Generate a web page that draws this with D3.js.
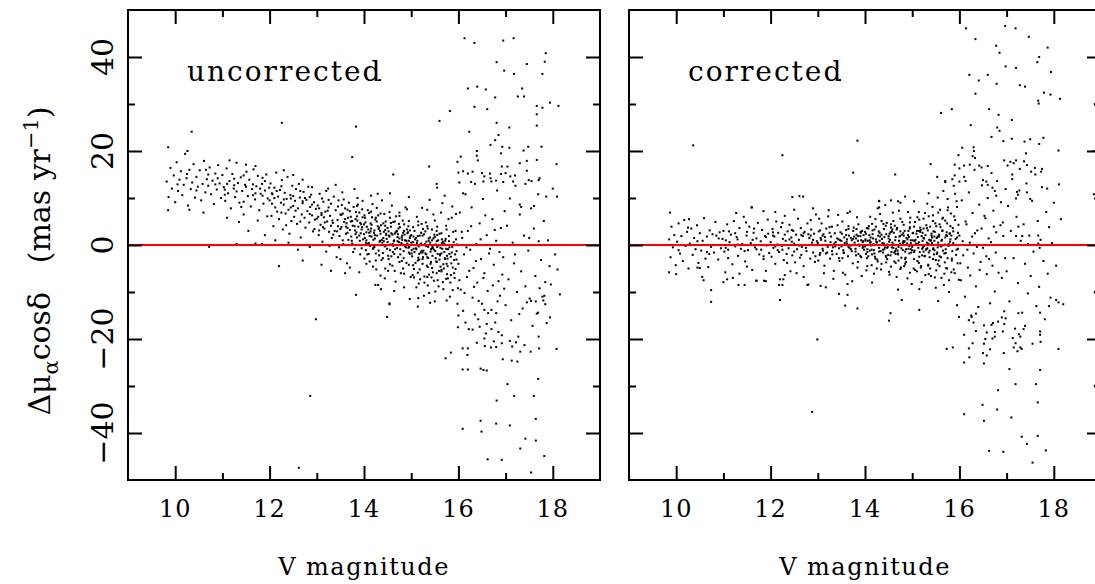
<!DOCTYPE html>
<html>
<head>
<meta charset="utf-8">
<script src="https://cdn.jsdelivr.net/npm/d3@7"></script>
<style>
  body { margin: 0; background: #fff; }
  svg { display: block; }
  text { font-family: "DejaVu Serif", serif; fill: #000; }
</style>
</head>
<body>
<script>
// width and height
var w = 1095;
var h = 584;

// axis ticks
var xMajor = [10, 12, 14, 16, 18];
var xMinor = [11, 13, 15, 17];
var yMajor = [-40, -20, 0, 20, 40];
var yMinor = [-30, -10, 10, 30];
var panelNames = ["uncorrected", "corrected"];

// uncorrected: main band (V magnitude, mu offset)
var uncorrBand = [
[9.82,13.5],[9.86,10.2],[9.9,16.4],[9.93,12.0],[9.97,14.8],[10.0,9.1],[10.03,17.6],[10.06,11.5],[10.09,13.9],[10.12,15.7],[10.15,10.6],[10.18,12.8],[10.21,19.4],[10.24,14.2],[10.27,8.4],[10.3,16.0],[10.33,11.9],[10.36,13.3],[10.39,17.2],[10.42,10.1],[10.45,14.5],[10.48,12.4],[10.52,15.9],[10.55,9.5],[10.58,13.0],[10.61,17.9],[10.64,11.2],[10.67,14.0],[10.7,12.6],[10.73,16.5],[10.76,10.8],[10.79,13.7],[10.82,8.7],[10.85,15.2],[10.88,11.8],[10.91,17.0],[10.94,13.1],[10.97,10.0],[10.6,6.9],[10.3,7.5],
[11.0,14.9],[11.03,12.3],[11.06,9.4],[11.09,16.3],[11.12,11.0],[11.15,13.6],[11.18,7.8],[11.21,15.1],[11.24,12.0],[11.27,10.2],[11.3,17.5],[11.33,13.2],[11.36,9.0],[11.39,14.4],[11.42,11.5],[11.45,6.5],[11.48,12.8],[11.51,15.6],[11.54,10.4],[11.57,13.9],[11.6,8.2],[11.63,11.9],[11.66,16.1],[11.69,9.7],[11.72,12.5],[11.75,14.7],[11.78,7.4],[11.81,10.9],[11.84,13.0],[11.87,8.8],[11.9,11.6],[11.93,15.0],[11.96,9.9],[11.99,12.2],[11.1,5.8],[11.35,4.9],[11.55,3.0],[11.75,5.2],[11.9,2.1],[11.05,11.8],[11.25,14.1],[11.45,9.2],[11.65,12.9],[11.85,10.5],[11.15,18.0],[11.5,17.1],[11.7,16.8],[11.95,6.1],[11.4,8.1],[11.8,12.0],
[12.0,9.5],[12.02,13.1],[12.04,6.2],[12.06,10.8],[12.08,4.0],[12.1,12.2],[12.12,8.0],[12.14,15.4],[12.16,7.1],[12.18,10.3],[12.2,5.5],[12.22,11.7],[12.24,9.0],[12.26,13.8],[12.28,3.3],[12.3,8.6],[12.32,11.1],[12.34,6.7],[12.36,9.8],[12.38,14.5],[12.4,7.5],[12.42,2.4],[12.44,10.6],[12.46,5.1],[12.48,12.6],[12.5,8.3],[12.52,6.0],[12.54,9.4],[12.56,11.9],[12.58,4.5],[12.6,7.8],[12.62,13.0],[12.64,10.1],[12.66,1.6],[12.68,6.5],[12.7,8.9],[12.72,11.3],[12.74,5.8],[12.76,3.7],[12.78,9.6],[12.8,7.2],[12.82,12.4],[12.84,4.8],[12.86,8.1],[12.88,10.7],[12.9,6.3],[12.92,2.9],[12.94,9.1],[12.96,5.4],[12.98,7.7],[12.05,8.8],[12.15,11.5],[12.25,6.9],[12.35,4.2],[12.45,9.9],[12.55,7.3],[12.65,5.0],[12.75,10.0],[12.85,6.6],[12.95,3.4],[12.12,1.0],[12.4,0.5],[12.6,-1.0],[12.85,-0.4],[12.3,15.9],[12.5,14.9],[12.7,13.9],[12.9,12.3],[12.2,-4.5],[12.7,-3.3],
[13.0,5.6],[13.02,8.4],[13.04,2.1],[13.06,10.9],[13.08,4.3],[13.1,6.8],[13.12,0.7],[13.14,9.2],[13.16,3.5],[13.18,7.1],[13.2,-1.4],[13.22,5.0],[13.24,12.0],[13.26,2.8],[13.28,6.2],[13.3,8.8],[13.32,1.5],[13.34,4.7],[13.36,10.3],[13.38,3.0],[13.4,7.4],[13.42,-2.6],[13.44,5.3],[13.46,9.5],[13.48,1.9],[13.5,6.5],[13.52,3.8],[13.54,11.2],[13.56,0.2],[13.58,4.9],[13.6,7.8],[13.62,2.4],[13.64,-3.9],[13.66,5.8],[13.68,9.0],[13.7,3.2],[13.72,6.0],[13.74,0.9],[13.76,4.1],[13.78,8.1],[13.8,-0.8],[13.82,5.5],[13.84,2.7],[13.86,10.0],[13.88,3.9],[13.9,6.9],[13.92,-2.0],[13.94,4.4],[13.96,7.6],[13.98,1.2],[13.05,3.1],[13.15,5.9],[13.25,8.0],[13.35,2.2],[13.45,4.0],[13.55,6.7],[13.65,3.6],[13.75,5.1],[13.85,1.6],[13.95,3.3],[13.1,-4.2],[13.3,-5.5],[13.5,-3.0],[13.7,-4.8],[13.9,-5.8],[13.6,-6.0],[13.2,11.5],[13.4,12.8],[13.8,11.9],[13.03,6.0],[13.13,3.8],[13.23,7.3],[13.33,5.2],[13.43,2.9],[13.53,8.5],[13.63,4.6],[13.73,1.8],[13.83,7.0],[13.93,2.5],[13.97,5.9],[13.11,9.9],[13.37,0.0],[13.57,9.7],[13.77,-1.5],[13.87,8.6],[13.47,-0.5],[13.67,1.1],[13.27,-0.2],[13.17,4.8],[13.97,9.4],
[14.0,2.3],[14.02,5.8],[14.04,-1.1],[14.06,3.9],[14.08,7.4],[14.1,0.4],[14.12,-3.5],[14.14,4.6],[14.16,1.8],[14.18,8.7],[14.2,-0.6],[14.22,3.1],[14.24,5.4],[14.26,-5.2],[14.28,2.0],[14.3,6.3],[14.32,-2.2],[14.34,0.9],[14.36,4.2],[14.38,9.5],[14.4,-1.7],[14.42,2.8],[14.44,-7.1],[14.46,5.0],[14.48,1.3],[14.5,3.6],[14.52,-3.0],[14.54,7.0],[14.56,0.1],[14.58,2.5],[14.6,-4.4],[14.62,4.9],[14.64,1.0],[14.66,-0.9],[14.68,6.1],[14.7,2.9],[14.72,-2.6],[14.74,0.6],[14.76,3.8],[14.78,-6.0],[14.8,1.6],[14.82,5.2],[14.84,-1.3],[14.86,2.2],[14.88,8.0],[14.9,-3.8],[14.92,0.3],[14.94,4.0],[14.96,-0.4],[14.98,1.9],[14.01,-2.9],[14.05,1.0],[14.09,3.3],[14.13,-0.2],[14.17,5.9],[14.21,2.6],[14.25,-1.8],[14.29,4.0],[14.33,0.7],[14.37,-3.2],[14.41,1.5],[14.45,3.2],[14.49,-0.8],[14.53,2.0],[14.57,4.7],[14.61,-1.5],[14.65,2.4],[14.69,0.0],[14.73,3.5],[14.77,-2.0],[14.81,1.1],[14.85,4.4],[14.89,-0.5],[14.93,2.7],[14.97,-1.9],[14.03,4.8],[14.11,6.8],[14.19,-4.6],[14.27,7.9],[14.35,-6.5],[14.43,6.6],[14.51,-5.5],[14.59,8.4],[14.67,-7.8],[14.75,6.9],[14.83,-5.0],[14.91,7.6],[14.99,-6.8],[14.15,10.5],[14.55,11.0],[14.85,-9.0],[14.95,10.2],[14.3,-8.5],[14.64,-9.8],[14.07,0.2],[14.23,1.4],[14.39,0.5],[14.47,-0.1],[14.63,0.8],[14.71,1.7],[14.79,0.4],[14.87,-0.3],[14.95,0.9],[14.14,2.9],[14.31,3.4],[14.47,2.1],[14.69,3.0],[14.83,2.6],[14.97,3.1],[14.58,-2.4],
[15.0,0.5],[15.02,-2.4],[15.04,3.8],[15.06,-5.1],[15.08,1.2],[15.1,-0.7],[15.12,6.0],[15.14,-3.3],[15.16,-8.2],[15.18,2.0],[15.2,-1.6],[15.22,4.5],[15.24,-4.0],[15.26,0.0],[15.28,-6.7],[15.3,2.9],[15.32,-2.0],[15.34,7.5],[15.36,-0.4],[15.38,-10.2],[15.4,1.6],[15.42,-3.6],[15.44,3.3],[15.46,-5.8],[15.48,-1.0],[15.5,5.2],[15.52,-2.8],[15.54,0.8],[15.56,-7.5],[15.58,-0.1],[15.6,2.4],[15.62,-4.6],[15.64,-1.8],[15.66,8.9],[15.68,-9.4],[15.7,0.3],[15.72,-3.0],[15.74,4.1],[15.76,-6.2],[15.78,-0.9],[15.8,1.9],[15.82,-11.0],[15.84,-2.5],[15.86,5.8],[15.88,-4.8],[15.9,0.6],[15.92,-7.0],[15.94,3.0],[15.96,-1.3],[15.98,-12.5],[15.01,-1.1],[15.05,1.8],[15.09,-3.8],[15.13,0.9],[15.17,-1.9],[15.21,2.6],[15.25,-2.6],[15.29,0.2],[15.33,-4.4],[15.37,1.4],[15.41,-1.4],[15.45,-0.2],[15.49,2.2],[15.53,-3.5],[15.57,1.0],[15.61,-2.2],[15.65,0.4],[15.69,-5.0],[15.73,1.3],[15.77,-2.9],[15.81,-0.5],[15.85,-3.9],[15.89,2.8],[15.93,-2.0],[15.97,0.1],[15.03,-6.4],[15.11,-9.0],[15.19,-7.3],[15.27,-10.8],[15.35,-8.6],[15.43,-6.9],[15.51,-9.9],[15.59,-5.5],[15.67,-7.9],[15.75,-11.8],[15.83,-8.0],[15.91,-6.0],[15.99,-9.2],[15.15,5.0],[15.23,7.9],[15.31,4.8],[15.39,9.6],[15.47,6.5],[15.55,3.9],[15.63,6.9],[15.71,10.5],[15.79,5.5],[15.87,8.2],[15.95,6.6],[15.07,-1.5],[15.16,-0.3],[15.26,-1.2],[15.36,-2.8],[15.46,-0.6],[15.56,-1.9],[15.66,-0.8],[15.76,-2.3],[15.86,-1.6],[15.96,-3.1],
[16.0,-4.0],[16.03,6.9],[16.05,-9.5],[16.08,1.5],[16.1,-14.0],[16.12,-2.0],[16.15,10.8],[16.18,-6.8],[16.2,3.0],[16.22,-17.9],[16.25,-1.0],[16.28,8.0],[16.3,-11.2],[16.32,-4.9],[16.35,13.0],[16.38,0.2],[16.4,-8.0],[16.42,-15.8],[16.45,4.6],[16.48,-3.0],[16.5,-12.5],[16.52,9.8],[16.55,-6.0],[16.58,-18.8],[16.6,2.1],[16.62,-9.8],[16.65,-1.8],[16.68,14.2],[16.7,-13.8],[16.72,5.5],[16.75,-4.2],[16.78,-16.5],[16.8,0.9],[16.82,11.6],[16.85,-7.7],[16.88,-10.8],[16.9,3.6],[16.92,-19.2],[16.95,-2.6],[16.98,7.2],[16.02,-7.5],[16.13,-10.2],[16.23,-5.5],[16.33,-8.9],[16.43,-11.9],[16.53,-7.0],[16.63,-14.5],[16.73,-8.6],[16.83,-12.0],[16.93,-6.3],[16.07,2.8],[16.17,-0.5],[16.27,4.0],[16.37,-3.4],[16.47,1.2],[16.57,6.3],[16.67,-0.8],[16.77,3.2],[16.87,-1.5],[16.97,-9.3],
[17.0,-12.8],[17.03,4.1],[17.06,-7.3],[17.09,9.9],[17.12,-16.0],[17.15,0.5],[17.18,-3.9],[17.21,12.6],[17.24,-10.0],[17.27,-19.5],[17.3,6.5],[17.33,-5.6],[17.36,-13.5],[17.39,2.0],[17.42,-8.8],[17.45,15.8],[17.48,-1.2],[17.51,-11.4],[17.54,7.8],[17.57,-17.2],[17.6,3.5],[17.63,-6.6],[17.66,-14.6],[17.69,10.8],[17.72,-9.2],[17.75,-3.2],[17.78,-11.0],[17.81,5.1],[17.84,-7.9],[17.87,-16.6],[17.9,1.0],[17.93,-4.5],[17.96,-8.4],[18.0,12.0],[18.05,-2.0],[18.1,-5.2],[18.15,-10.5],[17.7,0.8],[17.2,-2.0],[17.5,1.5]
];

// uncorrected: extra points in the crowded core
var uncorrCore = [
[13.5,3.4],[13.55,1.0],[13.6,5.5],[13.65,2.6],[13.7,7.2],[13.75,0.3],[13.8,4.0],[13.85,6.1],[13.9,2.0],[13.95,-0.7],[14.0,4.4],[14.05,2.7],[14.1,-1.9],[14.15,3.5],[14.2,1.1],[14.25,5.8],[14.3,0.0],[14.35,2.4],[14.4,-2.8],[14.45,4.1],[14.5,0.6],[14.55,-1.1],[14.6,2.2],[14.65,5.0],[14.7,-0.6],[14.75,1.4],[14.8,-3.4],[14.85,3.0],[14.9,0.9],[14.95,-1.6],[15.0,2.1],[15.05,-0.8],[15.1,1.5],[15.15,-2.7],[15.2,0.2],[15.25,3.4],[15.3,-1.8],[15.35,-4.7],[15.4,0.5],[15.45,-2.3],[15.5,1.7],[15.55,-0.4],[15.6,-3.1],[15.65,1.2],[15.7,-1.5],[15.75,-4.0],[15.8,0.8],[15.04,-4.3],[15.14,-5.9],[15.24,-3.0],[15.34,-6.8],[15.44,-4.9],[15.54,-6.0],[15.64,-5.3],[15.74,-7.2],[15.24,2.0],[15.34,4.0],[15.44,1.0],[15.54,3.0],[15.64,2.5],[15.12,0.4],[15.22,-1.3],[15.32,0.7],[15.42,-0.9],[15.52,0.1],[15.62,-0.6],[15.72,0.9],[14.12,1.9],[14.22,-0.4],[14.32,3.7],[14.42,0.8],[14.52,2.9],[14.62,-0.2],[14.72,2.3],[14.82,0.1],[14.92,2.5],[13.52,6.4],[13.62,3.9],[13.72,5.0],[13.82,2.3],[13.92,4.7],[14.02,1.5],[13.1,6.4],[13.3,4.1],[12.9,8.6],[12.7,9.3],[12.5,10.4],[12.3,9.7],[12.1,10.0],[11.9,13.6],[11.7,11.0],[11.5,12.4],[11.3,11.4],[11.1,13.0],[10.9,14.2],[10.7,15.0],
[13.81,3.1],[13.86,5.2],[13.91,0.9],[13.96,3.8],[14.01,6.3],[14.04,0.5],[14.07,-2.0],[14.11,2.6],[14.16,4.3],[14.19,-0.8],[14.23,2.1],[14.27,5.0],[14.31,-1.2],[14.34,3.0],[14.38,1.1],[14.41,4.6],[14.44,-0.3],[14.47,2.4],[14.51,-2.3],[14.54,1.8],[14.57,3.9],[14.61,0.2],[14.64,-1.9],[14.67,2.7],[14.71,0.8],[14.74,4.5],[14.77,-0.9],[14.81,2.0],[14.84,-2.8],[14.87,1.0],[14.91,3.3],[14.94,-0.6],[14.97,1.5],[15.01,-1.8],[15.04,0.6],[15.07,3.0],[15.11,-0.9],[15.14,1.9],[15.17,-3.1],[15.21,0.3],[15.24,-1.6],[15.27,2.3],[15.31,-0.2],[15.34,-2.6],[15.37,0.9],[15.41,-4.0],[15.44,-0.7],[15.47,1.4],[15.51,-1.3],[15.54,-3.6],[15.57,0.0],[15.61,-2.0],[15.64,-5.6],[15.67,0.7],[15.71,-2.8],[15.74,-0.8],[15.77,-4.5],[15.81,-1.9],[15.84,-6.4],[15.87,-0.4],[15.91,-3.2],[15.94,-5.1],[15.06,-6.9],[15.18,-5.2],[15.28,-8.0],[15.38,-6.3],[15.48,-7.6],[15.58,-8.8],[15.68,-4.1],[15.78,-7.1],[15.88,-9.6],[14.55,-4.1],[14.65,-5.5],[14.75,-3.6],[14.85,-6.1],[14.95,-4.2],[14.05,-4.0],[14.25,-3.3],[14.45,-5.0],[15.15,4.2],[15.35,3.5],[15.55,2.1],[15.75,3.3],[15.95,1.2],[14.15,7.1],[14.35,6.7],[14.55,5.8],[14.75,6.2],[14.95,5.1],[13.85,8.3],[13.65,7.5],[13.45,8.2],[13.25,9.6],[13.05,7.8],[12.85,10.2],[12.65,11.5],[12.45,8.0],[12.25,12.5],[12.05,11.0],[11.85,14.3],[11.65,10.6],[11.45,14.8],[11.25,12.7],[11.05,10.7],[10.85,12.9],[10.65,16.0],[10.45,11.6],[10.25,15.1],[10.05,12.9]
];

// uncorrected: scattered stars away from the band
var uncorrOut = [
[12.26,26.0],[13.83,25.2],[10.35,24.1],[9.85,20.8],[10.26,20.0],[13.75,18.7],[14.62,15.0],[9.85,7.4],[14.29,10.9],
[16.13,44.0],[16.34,43.0],[16.95,43.5],[17.17,44.0],[17.85,40.8],[16.81,38.9],[17.45,38.5],[17.83,39.0],[16.97,37.1],[17.18,36.4],[17.78,36.4],[14.34,35.1],[16.2,33.3],[16.4,33.7],[16.58,33.1],[17.35,33.3],[16.78,31.4],[17.26,31.6],[17.39,31.6],[15.82,28.5],[16.34,29.4],[16.61,28.9],[17.66,29.6],[17.78,29.2],[17.94,30.3],[18.12,29.6],[17.66,27.8],[15.6,26.4],[16.81,26.0],[17.66,25.4],[17.08,25.0],[16.23,24.1],[16.85,23.4],[16.78,22.3],[16.68,21.3],[16.93,20.9],[17.08,20.7],[17.48,20.9],[17.76,20.9],[16.39,20.0],[16.39,19.0],[16.41,18.0],[16.9,19.5],[17.38,20.1],[17.66,18.1],[15.98,17.7],[16.05,18.8],[17.3,17.4],[17.45,17.9],[15.38,16.7],[18.08,17.2],[16.0,15.4],[16.1,15.7],[16.2,15.2],[16.3,15.6],[16.5,15.3],[16.55,14.6],[16.67,15.2],[16.92,16.7],[17.04,16.7],[16.9,15.1],[17.0,15.3],[17.1,14.6],[17.2,14.8],[16.02,13.3],[16.27,13.4],[16.1,11.0],[16.53,13.5],[16.7,13.5],[16.8,13.7],[16.95,13.4],[17.16,13.5],[17.42,13.0],[17.49,13.8],[17.55,13.6],[17.7,13.8],[17.72,14.2],[15.54,13.0],[15.55,12.2],[17.86,10.3],[18.09,10.3],[17.6,8.3],[17.3,8.6],[17.33,8.1],
[10.72,-0.4],[11.3,0.2],[11.7,0.3],[11.84,0.2],[12.98,-15.8],[12.86,-32.1],[12.62,-47.4],[13.83,-10.6],[14.24,-8.5],[14.36,-9.4],[14.54,-12.6],[14.49,-15.3],[14.54,-12.4],[15.14,-13.1],[14.97,-11.5],[15.15,-11.3],[15.4,-12.3],[15.5,-12.0],[15.73,-24.1],[15.84,-22.9],[15.99,-17.5],[16.09,-22.0],[16.19,-23.4],[16.09,-26.5],[16.2,-26.5],[16.2,-22.0],[16.39,-20.8],[16.47,-26.3],[16.53,-26.6],[16.6,-26.7],[16.55,-19.9],[16.56,-21.5],[16.69,-21.8],[16.75,-20.5],[16.8,-21.7],[16.92,-20.9],[16.94,-24.3],[17.09,-20.4],[17.14,-21.6],[17.22,-20.7],[17.31,-22.7],[17.13,-24.6],[17.25,-24.8],[17.4,-21.3],[17.53,-22.7],[17.71,-22.0],[17.7,-19.5],[18.08,-22.1],[17.69,-28.5],[17.04,-29.6],[17.18,-32.1],[17.6,-32.1],[16.81,-33.1],[16.47,-37.4],[16.49,-39.7],[16.8,-38.0],[17.09,-38.4],[17.64,-37.0],[16.09,-39.1],[17.42,-41.2],[17.64,-41.6],[17.31,-43.3],[17.82,-44.9],[16.62,-45.6],[16.92,-45.7],[17.54,-48.4],[17.94,-15.4],[17.69,-14.4],[17.8,-11.8],[17.84,-12.6],[17.82,-10.8],[17.45,-12.2],[17.54,-11.9],[17.64,-12.0],[17.29,-14.7],[16.0,-15.0],[16.15,-16.5],[16.3,-18.0],[16.45,-17.4],[16.6,-16.8],[16.7,-17.9],[16.85,-18.5],[16.35,-14.8],[16.8,-14.5],[16.55,-13.8]
];

// corrected: main band
var corrBand = [
[9.85,1.2],[9.88,-2.6],[9.9,3.9],[9.93,-0.5],[9.96,2.1],[9.99,-4.3],[10.02,0.7],[10.05,4.6],[10.08,-1.8],[10.11,1.9],[10.14,-3.4],[10.17,5.3],[10.2,-0.2],[10.23,2.8],[10.26,-5.0],[10.29,0.3],[10.32,3.5],[10.35,-2.1],[10.38,1.5],[10.41,-0.9],[10.44,4.2],[10.47,-3.8],[10.5,2.5],[10.53,-1.2],[10.56,0.9],[10.59,5.7],[10.62,-2.9],[10.65,1.8],[10.68,-4.7],[10.71,3.1],[10.74,-0.4],[10.77,2.3],[10.8,-1.6],[10.83,4.9],[10.86,0.0],[10.89,-3.1],[10.92,2.7],[10.95,-0.7],[10.98,1.3],[10.5,-4.9],
[11.0,3.0],[11.02,-1.4],[11.05,1.0],[11.08,4.4],[11.1,-2.8],[11.13,0.6],[11.16,2.2],[11.19,-4.1],[11.22,5.1],[11.25,-0.3],[11.28,1.7],[11.31,-2.3],[11.34,3.6],[11.37,-0.8],[11.4,0.2],[11.43,6.0],[11.46,-3.5],[11.49,2.0],[11.52,-1.1],[11.55,3.9],[11.58,0.4],[11.61,-5.3],[11.64,2.6],[11.67,-0.5],[11.7,1.4],[11.73,4.7],[11.76,-2.0],[11.79,0.8],[11.82,3.2],[11.85,-3.0],[11.88,1.9],[11.91,-0.1],[11.94,5.4],[11.97,-1.7],[11.04,-5.8],[11.2,-7.0],[11.34,-6.1],[11.5,-4.6],[11.7,-7.6],[11.9,-5.5],[11.12,2.9],[11.3,0.1],[11.48,4.8],[11.62,1.1],[11.8,-1.0],[11.95,2.4],[11.6,8.0],[11.27,6.8],[11.85,7.2],[11.45,-8.5],
[12.0,0.6],[12.02,-2.5],[12.04,3.4],[12.06,-0.6],[12.08,1.8],[12.1,-4.0],[12.12,5.0],[12.14,0.1],[12.16,2.6],[12.18,-1.5],[12.2,-7.3],[12.22,3.8],[12.24,-0.2],[12.26,1.3],[12.28,-3.2],[12.3,6.2],[12.32,0.9],[12.34,-1.9],[12.36,2.9],[12.38,-0.7],[12.4,4.3],[12.42,-5.6],[12.44,1.6],[12.46,-2.2],[12.48,3.0],[12.5,0.3],[12.52,-3.7],[12.54,2.2],[12.56,-0.9],[12.58,5.6],[12.6,1.1],[12.62,-2.7],[12.64,3.6],[12.66,-0.4],[12.68,1.9],[12.7,-4.5],[12.72,2.8],[12.74,0.0],[12.76,-1.3],[12.78,4.6],[12.8,-8.4],[12.82,1.5],[12.84,-2.9],[12.86,3.3],[12.88,0.5],[12.9,-1.6],[12.92,2.4],[12.94,-3.6],[12.96,6.5],[12.98,0.8],[12.05,2.0],[12.15,-1.1],[12.25,4.7],[12.35,-3.8],[12.45,0.7],[12.55,-6.0],[12.65,2.1],[12.75,-0.6],[12.85,5.3],[12.95,-2.4],[12.1,7.0],[12.3,-6.4],[12.5,7.5],[12.7,-6.8],[12.9,7.8],[12.2,-11.7],[12.18,-8.5],[12.4,1.2],[12.6,-0.1],[12.8,2.3],
[13.0,0.4],[13.02,2.9],[13.04,-2.1],[13.06,1.5],[13.08,4.6],[13.1,-0.8],[13.12,2.3],[13.14,-4.4],[13.16,0.9],[13.18,3.5],[13.2,-1.6],[13.22,6.1],[13.24,0.0],[13.26,-2.9],[13.28,1.8],[13.3,3.9],[13.32,-0.5],[13.34,-5.5],[13.36,2.5],[13.38,0.6],[13.4,-1.9],[13.42,4.2],[13.44,1.2],[13.46,-3.4],[13.48,2.7],[13.5,-0.3],[13.52,5.0],[13.54,-1.1],[13.56,1.6],[13.58,-6.3],[13.6,3.2],[13.62,0.2],[13.64,-2.4],[13.66,2.0],[13.68,7.1],[13.7,-0.9],[13.72,1.0],[13.74,-3.9],[13.76,3.7],[13.78,0.5],[13.8,-1.4],[13.82,2.2],[13.84,-4.8],[13.86,4.4],[13.88,-0.2],[13.9,1.9],[13.92,-2.6],[13.94,3.0],[13.96,0.8],[13.98,-1.0],[13.01,-3.3],[13.05,3.1],[13.11,-1.2],[13.15,1.7],[13.21,-0.4],[13.25,2.6],[13.31,-2.0],[13.35,0.3],[13.41,1.4],[13.45,-0.7],[13.51,2.4],[13.55,-1.6],[13.61,0.7],[13.65,3.4],[13.71,-0.1],[13.75,1.3],[13.81,-2.2],[13.85,0.9],[13.91,2.6],[13.95,-0.6],[13.03,5.6],[13.13,-6.0],[13.23,7.4],[13.33,-7.2],[13.43,6.4],[13.53,-5.9],[13.63,6.8],[13.73,-7.7],[13.83,5.9],[13.93,-6.6],[13.07,1.1],[13.17,-1.8],[13.27,0.6],[13.37,-0.3],[13.47,1.0],[13.57,0.4],[13.67,-0.6],[13.77,1.8],[13.87,0.1],[13.97,2.1],
[14.0,-0.3],[14.02,2.4],[14.04,-2.8],[14.06,0.9],[14.08,4.0],[14.1,-1.2],[14.12,1.6],[14.14,-4.3],[14.16,3.1],[14.18,0.2],[14.2,-1.8],[14.22,5.5],[14.24,0.7],[14.26,-3.1],[14.28,2.0],[14.3,-0.6],[14.32,6.6],[14.34,-5.2],[14.36,1.3],[14.38,-1.0],[14.4,3.4],[14.42,0.0],[14.44,-2.3],[14.46,4.7],[14.48,-0.4],[14.5,1.9],[14.52,-6.3],[14.54,2.7],[14.56,-1.5],[14.58,0.5],[14.6,5.1],[14.62,-3.5],[14.64,1.0],[14.66,-0.8],[14.68,3.6],[14.7,-2.0],[14.72,7.3],[14.74,0.3],[14.76,-4.8],[14.78,2.2],[14.8,-1.1],[14.82,4.3],[14.84,0.8],[14.86,-2.7],[14.88,1.5],[14.9,-7.1],[14.92,3.0],[14.94,-0.2],[14.96,5.8],[14.98,-1.6],[14.01,1.2],[14.05,-1.5],[14.09,2.1],[14.13,-0.1],[14.17,1.4],[14.21,-2.5],[14.25,0.6],[14.29,2.9],[14.33,-1.3],[14.37,0.4],[14.41,-0.9],[14.45,2.3],[14.49,-2.1],[14.53,1.1],[14.57,-0.5],[14.61,2.6],[14.65,-1.9],[14.69,0.0],[14.73,1.8],[14.77,-0.7],[14.81,2.5],[14.85,-1.4],[14.89,0.3],[14.93,1.7],[14.97,-0.9],[14.03,-5.4],[14.11,6.0],[14.19,-6.1],[14.27,7.8],[14.35,-4.0],[14.43,8.5],[14.51,-5.7],[14.59,6.9],[14.67,-6.8],[14.75,9.0],[14.83,-4.5],[14.91,7.0],[14.99,-8.3],[14.15,-8.0],[14.55,9.5],[14.85,10.3],[14.3,9.3],[14.7,-9.5],[14.07,3.5],[14.23,3.9],[14.39,4.5],[14.47,-3.0],[14.63,4.1],[14.71,-3.3],[14.79,4.9],[14.87,-3.6],[14.95,3.8],[14.14,-1.0],[14.31,0.9],[14.47,0.1],[14.69,-1.2],[14.83,0.6],[14.97,1.0],[14.58,3.3],
[15.0,-0.4],[15.02,2.6],[15.04,-3.0],[15.06,4.9],[15.08,0.3],[15.1,-5.6],[15.12,1.7],[15.14,7.0],[15.16,-1.5],[15.18,3.2],[15.2,-7.9],[15.22,0.9],[15.24,5.6],[15.26,-2.4],[15.28,2.1],[15.3,-0.9],[15.32,8.8],[15.34,-4.2],[15.36,1.1],[15.38,3.9],[15.4,-6.6],[15.42,0.4],[15.44,6.3],[15.46,-2.0],[15.48,2.8],[15.5,-9.1],[15.52,1.5],[15.54,10.1],[15.56,-3.3],[15.58,4.4],[15.6,-0.2],[15.62,-7.0],[15.64,3.0],[15.66,11.5],[15.68,-1.8],[15.7,5.2],[15.72,-4.9],[15.74,1.9],[15.76,8.0],[15.78,-10.0],[15.8,0.7],[15.82,6.7],[15.84,-2.9],[15.86,3.6],[15.88,12.6],[15.9,-6.0],[15.92,1.3],[15.94,9.3],[15.96,-3.9],[15.98,4.3],[15.01,1.0],[15.05,-1.2],[15.09,2.4],[15.13,-0.6],[15.17,3.7],[15.21,-2.2],[15.25,1.4],[15.29,-1.0],[15.33,3.1],[15.37,-2.6],[15.41,2.0],[15.45,-0.7],[15.49,4.6],[15.53,-1.6],[15.57,2.2],[15.61,-0.3],[15.65,5.8],[15.69,-3.7],[15.73,2.7],[15.77,0.2],[15.81,4.0],[15.85,-1.3],[15.89,6.1],[15.93,-2.1],[15.97,2.6],[15.03,-5.0],[15.11,5.9],[15.19,-4.5],[15.27,6.8],[15.35,-6.2],[15.43,8.1],[15.51,-5.4],[15.59,7.5],[15.67,-8.5],[15.75,9.8],[15.83,-5.8],[15.91,10.9],[15.99,-7.4],[15.15,-9.4],[15.55,-11.9],[15.85,14.0],[15.95,-12.8],[15.7,13.4],[15.35,11.0],[15.07,0.0],[15.23,-0.5],[15.39,0.9],[15.47,-1.1],[15.63,1.1],[15.71,-0.9],[15.79,2.4],[15.87,0.4],[15.95,1.6],[15.14,3.0],[15.31,0.5],[15.47,1.8],[15.69,0.1],[15.83,2.0],[15.97,-0.8],[15.58,-2.4],
[16.0,2.0],[16.03,-7.5],[16.05,9.5],[16.08,-2.2],[16.1,14.5],[16.12,-11.0],[16.15,4.4],[16.18,-4.8],[16.2,11.2],[16.22,0.5],[16.25,-15.0],[16.28,6.8],[16.3,-1.8],[16.32,16.0],[16.35,-8.8],[16.38,3.1],[16.4,-13.2],[16.42,8.6],[16.45,-3.6],[16.48,12.7],[16.5,-0.6],[16.52,-17.1],[16.55,5.7],[16.58,-6.2],[16.6,10.0],[16.62,1.4],[16.65,-12.4],[16.68,15.3],[16.7,-4.4],[16.72,7.3],[16.75,-9.9],[16.78,2.7],[16.8,13.6],[16.82,-16.3],[16.85,0.0],[16.88,9.1],[16.9,-7.0],[16.92,4.8],[16.95,-14.1],[16.98,11.9],[16.02,-3.9],[16.13,5.0],[16.23,-6.5],[16.33,2.5],[16.43,-5.3],[16.53,6.2],[16.63,-3.0],[16.73,3.9],[16.83,-5.9],[16.93,1.9],[16.07,0.8],[16.17,-1.0],[16.27,1.8],[16.37,-0.4],[16.47,3.5],[16.57,-2.4],[16.67,0.6],[16.77,-1.6],[16.87,4.2],[16.97,-2.8],
[17.0,-5.6],[17.03,8.3],[17.06,-12.0],[17.09,3.0],[17.12,15.0],[17.15,-2.8],[17.18,-17.8],[17.21,6.0],[17.24,-8.1],[17.27,11.6],[17.3,0.9],[17.33,-14.4],[17.36,4.4],[17.39,-4.0],[17.42,13.1],[17.45,-10.3],[17.48,2.0],[17.51,-6.6],[17.54,9.4],[17.57,-1.4],[17.6,16.4],[17.63,-13.0],[17.66,5.1],[17.69,-8.9],[17.72,1.1],[17.75,12.3],[17.78,-3.4],[17.81,-15.8],[17.84,7.0],[17.87,-6.1],[17.9,3.8],[17.93,-11.2],[17.96,0.4],[18.0,9.0],[18.05,-4.4],[18.1,-12.2],[18.15,5.5],[17.7,-0.6],[17.2,1.9],[17.45,0.2]
];

// corrected: extra points in the crowded core
var corrCore = [
[13.5,0.9],[13.55,-1.7],[13.6,2.1],[13.65,-0.4],[13.7,1.5],[13.75,3.0],[13.8,-0.8],[13.85,1.9],[13.9,-2.3],[13.95,0.6],[14.0,2.8],[14.05,-0.9],[14.1,1.0],[14.15,-2.0],[14.2,3.3],[14.25,0.1],[14.3,-1.4],[14.35,2.2],[14.4,0.3],[14.45,-2.6],[14.5,1.4],[14.55,3.7],[14.6,-0.6],[14.65,1.7],[14.7,-1.8],[14.75,2.9],[14.8,0.4],[14.85,-3.0],[14.9,1.2],[14.95,3.5],[15.0,-1.1],[15.05,0.8],[15.1,3.0],[15.15,-2.5],[15.2,1.9],[15.25,-0.2],[15.3,4.2],[15.35,-1.6],[15.4,1.0],[15.45,2.9],[15.5,-3.2],[15.55,0.5],[15.6,3.8],[15.65,-1.2],[15.7,1.6],[15.75,-2.8],[15.8,2.5],[15.04,3.9],[15.14,-3.8],[15.24,3.5],[15.34,-4.4],[15.44,5.1],[15.54,-4.1],[15.64,5.6],[15.74,-5.0],[15.24,-1.4],[15.34,0.3],[15.44,-0.9],[15.54,1.8],[15.64,-0.1],[15.12,0.2],[15.22,2.6],[15.32,-0.7],[15.42,1.6],[15.52,-1.9],[15.62,0.9],[15.72,2.1],[14.12,0.6],[14.22,-2.9],[14.32,1.8],[14.42,-0.5],[14.52,2.4],[14.62,-1.6],[14.72,0.9],[14.82,2.0],[14.92,-0.8],[13.52,-2.8],[13.62,1.2],[13.72,-1.3],[13.82,3.4],[13.92,1.0],[14.02,-1.9],[13.1,2.0],[13.3,-1.3],[12.9,1.1],[12.7,2.5],[12.5,-1.4],[12.3,2.2],[12.1,-0.3],[11.9,1.7],[11.7,-0.9],[11.5,2.8],[11.3,1.2],[11.1,-1.0],[10.9,1.4],[10.7,-1.9],
[13.81,1.4],[13.86,-1.9],[13.91,2.8],[13.96,-0.3],[14.01,0.9],[14.04,3.6],[14.07,-2.4],[14.11,0.5],[14.16,2.3],[14.19,-1.1],[14.23,1.2],[14.27,-3.5],[14.31,2.6],[14.34,0.0],[14.38,-1.6],[14.41,1.7],[14.44,4.1],[14.47,-0.6],[14.51,0.7],[14.54,-2.2],[14.57,2.9],[14.61,0.1],[14.64,-1.3],[14.67,3.3],[14.71,-0.4],[14.74,1.9],[14.77,-2.7],[14.81,0.8],[14.84,3.0],[14.87,-0.9],[14.91,2.1],[14.94,-1.8],[14.97,0.4],[15.01,2.5],[15.04,-1.5],[15.07,1.1],[15.11,-3.4],[15.14,0.6],[15.17,2.8],[15.21,-0.8],[15.24,1.5],[15.27,-2.3],[15.31,3.6],[15.34,0.2],[15.37,-1.2],[15.41,2.4],[15.44,-3.0],[15.47,0.9],[15.51,4.0],[15.54,-0.5],[15.57,1.8],[15.61,-2.6],[15.64,3.1],[15.67,0.0],[15.71,-1.7],[15.74,4.6],[15.77,-0.2],[15.81,1.2],[15.84,-3.3],[15.87,2.9],[15.91,5.3],[15.94,-1.0],[15.06,-5.3],[15.18,-4.8],[15.28,-6.4],[15.38,-5.0],[15.48,-6.9],[15.58,-4.5],[15.68,-6.1],[15.78,-7.5],[15.88,-5.2],[14.55,-4.6],[14.65,-3.8],[14.75,-5.1],[14.85,-4.0],[14.95,-5.9],[14.05,-4.5],[14.25,-5.0],[14.45,-3.7],[15.15,5.4],[15.35,6.1],[15.55,6.9],[15.75,7.4],[15.95,8.1],[14.15,4.5],[14.35,5.1],[14.55,4.4],[14.75,5.6],[14.95,4.8],[13.85,-3.6],[13.65,4.0],[13.45,-2.8],[13.25,3.8],[13.05,-1.7],[12.85,2.0],[12.65,-2.1],[12.45,3.2],[12.25,-1.0],[12.05,2.7],[11.85,-2.4],[11.65,3.5],[11.45,-1.3],[11.25,2.5],[11.05,-0.6],[10.85,2.0],[10.65,-1.5],[10.45,0.8],[10.25,3.7],[10.05,-1.1]
];

// corrected: scattered stars away from the band
var corrOut = [
[10.36,21.2],[12.25,19.1],[12.46,10.2],[12.61,10.4],[12.69,10.3],[9.87,6.9],[10.27,5.5],[11.6,8.0],
[16.14,46.1],[16.97,46.6],[17.19,46.1],[17.47,44.3],[16.34,43.8],[16.78,42.4],[16.85,40.9],[17.87,42.0],[17.69,40.0],[17.65,38.9],[17.94,36.8],[16.98,38.0],[17.2,37.7],[13.47,35.1],[16.21,36.2],[16.41,35.0],[16.6,36.2],[16.79,34.3],[17.28,34.0],[17.39,33.7],[16.34,32.2],[17.67,30.7],[17.68,30.1],[17.79,32.4],[17.93,32.0],[18.13,31.1],[18.87,30.0],[15.61,28.1],[15.84,28.9],[16.63,28.9],[16.83,27.7],[17.11,26.6],[16.24,25.5],[16.8,25.0],[16.85,24.3],[16.68,23.0],[13.84,22.2],[16.93,22.1],[17.11,22.6],[17.38,22.0],[17.5,22.5],[17.69,21.5],[17.78,22.8],[18.1,20.1],[18.84,20.0],[16.06,20.7],[15.98,19.1],[16.3,20.8],[16.31,20.0],[16.28,18.9],[16.33,18.5],[16.42,16.9],[16.47,16.5],[16.6,16.8],[16.95,18.0],[17.02,16.9],[17.08,17.7],[17.15,17.4],[17.2,18.0],[17.28,16.2],[17.37,17.8],[15.39,17.2],[15.9,17.1],[16.0,16.3],[16.1,16.9],[16.22,17.1],[17.41,19.5],[17.43,17.0],[17.52,15.6],[17.61,15.0],[17.73,15.6],[17.75,16.2],[15.53,14.5],[15.7,13.6],[15.9,14.8],[16.0,13.5],[16.13,13.6],[13.75,15.4],[14.64,15.0],[16.5,13.8],[16.57,13.5],[16.6,12.8],[16.7,12.2],[16.75,11.5],[16.78,10.5],[17.12,14.0],[17.22,11.3],[17.24,10.7],[17.2,9.9],[17.43,11.2],[17.5,9.8],[17.86,12.0],[18.11,12.9],[18.85,10.8],[14.3,9.4],[14.3,8.0],[14.7,9.3],[15.04,9.3],[17.67,2.0],[17.67,0.3],[17.25,3.9],[17.33,1.9],
[9.85,-5.8],[10.0,-6.2],[10.74,-9.6],[10.74,-12.1],[11.32,-8.5],[10.55,-6.8],[10.58,-7.5],[10.45,-4.8],[11.0,-7.9],[11.08,-7.3],[11.7,-7.6],[11.86,-7.6],[11.9,-7.7],[12.2,-11.7],[12.25,-8.5],[12.27,-7.3],[12.99,-20.1],[12.88,-35.5],[12.78,-8.5],[13.06,-8.7],[13.17,-9.0],[13.63,-10.6],[13.63,-8.3],
[13.84,-13.5],[14.51,-16.1],[14.54,-14.5],[14.78,-11.7],[15.15,-13.8],[13.58,-12.9],[13.45,-10.4],[15.73,-22.1],[15.86,-21.8],[15.99,-15.3],[16.1,-19.1],[16.1,-25.0],[16.21,-23.9],[16.28,-20.9],[16.2,-22.0],[16.2,-16.0],[16.3,-16.5],[16.35,-14.6],[16.26,-15.3],[16.35,-18.3],[16.5,-23.0],[16.58,-23.5],[16.65,-22.2],[16.55,-20.0],[16.52,-21.0],[16.52,-25.2],[16.58,-18.6],[16.68,-17.0],[16.71,-16.6],[16.7,-19.9],[16.75,-19.5],[16.75,-18.5],[16.94,-23.0],[16.92,-18.4],[16.95,-16.8],[16.9,-15.4],[16.98,-15.6],[17.06,-26.4],[17.19,-29.6],[17.13,-19.8],[17.19,-20.9],[17.26,-19.0],[17.29,-19.5],[17.23,-22.6],[17.29,-21.8],[17.32,-22.1],[17.15,-21.8],[17.39,-17.2],[17.55,-21.0],[17.71,-18.4],[17.71,-19.1],[17.72,-20.6],[17.71,-26.6],[17.62,-29.6],[18.1,-22.1],[17.71,-14.4],[17.9,-13.0],[18.05,-11.7],[18.2,-12.6],[17.25,-14.5],[17.36,-17.9],[16.82,-30.9],[16.49,-34.0],[16.1,-36.0],[16.52,-37.4],[16.8,-35.0],[17.1,-36.7],[17.66,-33.5],[17.32,-40.8],[17.43,-42.3],[17.66,-40.6],[17.83,-43.7],[16.63,-43.8],[16.93,-44.0],[17.55,-46.3],[18.87,-10.0],[18.87,-30.0]
];

//add svg canvas
var svg = d3.select("body")
            .append("svg")
            .attr("width", w)
            .attr("height", h);

// panel geometry: both panels share the same size, right one runs off the page
var pw = 472, ph = 470, plotTop = 10;
var panels = [
    {x0: 128, name: panelNames[0], pts: uncorrBand.concat(uncorrCore, uncorrOut), yLabels: true},
    {x0: 629, name: panelNames[1], pts: corrBand.concat(corrCore, corrOut), yLabels: false}
];

panels.forEach(function(p, k) {
    var x = d3.scaleLinear().domain([9, 19]).range([p.x0, p.x0 + pw]);
    var y = d3.scaleLinear().domain([-50, 50]).range([plotTop + ph, plotTop]);

    var clipId = "clip" + k;
    svg.append("clipPath").attr("id", clipId)
        .append("rect")
        .attr("x", p.x0).attr("y", plotTop)
        .attr("width", pw).attr("height", ph);

    //the stars
    svg.append("g")
        .attr("clip-path", "url(#" + clipId + ")")
        .selectAll("rect")
        .data(p.pts)
        .enter()
        .append("rect")
        .attr("x", function(d) { return x(d[0]) - 1; })
        .attr("y", function(d) { return y(d[1]) - 1; })
        .attr("width", 2)
        .attr("height", 2)
        .style("fill", "#000");

    //zero line
    svg.append("line")
        .attr("x1", p.x0).attr("x2", p.x0 + pw)
        .attr("y1", y(0)).attr("y2", y(0))
        .style("stroke", "#f00")
        .style("stroke-width", 2);

    //ticks pointing inward on all four sides
    function ticks(axis, vals, size, tx, ty) {
        var g = svg.append("g")
            .attr("transform", "translate(" + tx + "," + ty + ")")
            .call(axis.tickValues(vals).tickSize(-size).tickFormat(""));
        g.select(".domain").remove();
        g.selectAll(".tick line").style("stroke", "#000").style("stroke-width", 2);
    }
    ticks(d3.axisBottom(x), xMajor, 14, 0, plotTop + ph);
    ticks(d3.axisBottom(x), xMinor, 7, 0, plotTop + ph);
    ticks(d3.axisTop(x), xMajor, 14, 0, plotTop);
    ticks(d3.axisTop(x), xMinor, 7, 0, plotTop);
    ticks(d3.axisLeft(y), yMajor, 14, p.x0, 0);
    ticks(d3.axisLeft(y), yMinor, 7, p.x0, 0);
    ticks(d3.axisRight(y), yMajor, 14, p.x0 + pw, 0);
    ticks(d3.axisRight(y), yMinor, 7, p.x0 + pw, 0);

    //frame
    svg.append("rect")
        .attr("x", p.x0).attr("y", plotTop)
        .attr("width", pw).attr("height", ph)
        .style("fill", "none")
        .style("stroke", "#000")
        .style("stroke-width", 2);

    //x tick labels
    svg.selectAll(null)
        .data(xMajor)
        .enter()
        .append("text")
        .attr("x", function(d) { return x(d); })
        .attr("y", 517)
        .attr("text-anchor", "middle")
        .style("font-size", "24px")
        .style("letter-spacing", "1px")
        .text(function(d) { return d; });

    //x axis title
    svg.append("text")
        .attr("x", p.x0 + pw / 2)
        .attr("y", 575)
        .attr("text-anchor", "middle")
        .style("font-size", "24px")
        .style("letter-spacing", "1.5px")
        .text("V magnitude");

    //panel name
    svg.append("text")
        .attr("x", x(10.25))
        .attr("y", 81)
        .style("font-size", "28px")
        .style("letter-spacing", "2px")
        .text(p.name);

    if (p.yLabels) {
        //y tick labels, turned on their side
        svg.selectAll(null)
            .data(yMajor)
            .enter()
            .append("text")
            .attr("transform", function(d) { return "translate(113," + y(d) + ") rotate(-90)"; })
            .attr("text-anchor", "middle")
            .style("font-size", "30px")
            .text(function(d) { return d < 0 ? "\u2212" + Math.abs(d) : d; });

        //y axis title
        var t = svg.append("text")
            .attr("transform", "translate(50,261) rotate(-90)")
            .attr("text-anchor", "middle")
            .style("font-size", "30px");
        t.append("tspan").text("\u0394\u03bc");
        t.append("tspan").attr("dy", 8).style("font-size", "21px").text("\u03b1");
        t.append("tspan").attr("dy", -8).text("cos\u03b4\u00a0\u00a0\u00a0(mas yr");
        t.append("tspan").attr("dy", -12).style("font-size", "21px").text("\u22121");
        t.append("tspan").attr("dy", 12).text(")");
    }
});
</script>
</body>
</html>
